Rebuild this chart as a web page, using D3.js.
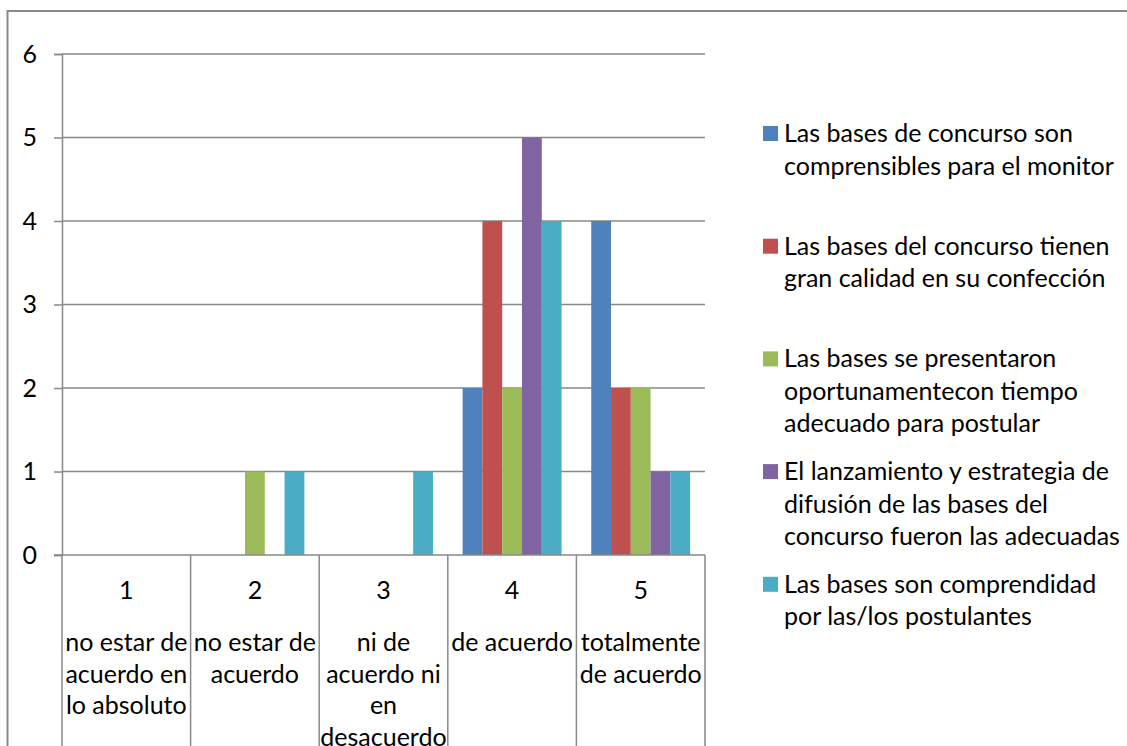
<!DOCTYPE html>
<html>
<head>
<meta charset="utf-8">
<script src="https://cdn.jsdelivr.net/npm/d3@7"></script>
<style>
  html, body { margin: 0; padding: 0; background: #fff; }
  svg { display: block; }
  text { font-family: Lato, "Open Sans", sans-serif; fill: #000; }
</style>
</head>
<body>
<svg id="chart" width="1127" height="746"></svg>
<script>
// ---- data ----
const categories = ["1", "2", "3", "4", "5"];
const categoryLabels = [
  ["no estar de", "acuerdo en", "lo absoluto"],
  ["no estar de", "acuerdo"],
  ["ni de", "acuerdo ni", "en", "desacuerdo"],
  ["de acuerdo"],
  ["totalmente", "de acuerdo"]
];
const seriesNames = [
  ["Las bases de concurso son", "comprensibles para el monitor"],
  ["Las bases del concurso tienen", "gran calidad en su confección"],
  ["Las bases se presentaron", "oportunamentecon tiempo", "adecuado para postular"],
  ["El lanzamiento y estrategia de", "difusión de las bases del", "concurso fueron las adecuadas"],
  ["Las bases son comprendidad", "por las/los postulantes"]
];
const seriesColors = ["#4F81BD", "#C0504D", "#9BBB59", "#8064A2", "#4BACC6"];
const s1 = [0, 0, 0, 2, 4];
const s2 = [0, 0, 0, 4, 2];
const s3 = [0, 1, 0, 2, 2];
const s4 = [0, 0, 0, 5, 1];
const s5 = [0, 1, 1, 4, 1];
const seriesValues = [s1, s2, s3, s4, s5];
const yTicks = [0, 1, 2, 3, 4, 5, 6];

// ---- layout ----
const svg = d3.select("#chart");
const plot = { left: 62, right: 705, top: 54, bottom: 555 };
const gray = "#898989";
const fontSize = 25;

// chart frame (extends past the image edges)
svg.append("rect")
  .attr("x", 7.5).attr("y", 11)
  .attr("width", 1300).attr("height", 900)
  .attr("fill", "none").attr("stroke", gray).attr("stroke-width", 2);

const x = d3.scaleBand().domain(categories).range([plot.left, plot.right]).padding(0);
const bw = x.bandwidth();
const barW = bw / (seriesValues.length + 1.5);
const xs = d3.scaleBand().domain(d3.range(seriesValues.length))
  .range([barW * 0.75, bw - barW * 0.75]).padding(0);
const y = d3.scaleLinear().domain([0, 6]).range([plot.bottom, plot.top]);

// gridlines
svg.append("g").selectAll("line").data(yTicks.filter(d => d > 0)).join("line")
  .attr("x1", plot.left).attr("x2", plot.right)
  .attr("y1", d => y(d)).attr("y2", d => y(d))
  .attr("stroke", gray).attr("stroke-width", 1.5);

// y axis
const yAxis = d3.axisLeft(y).tickValues(yTicks).tickSize(8).tickPadding(17).tickFormat(d3.format("d"));
const gy = svg.append("g").attr("transform", `translate(${plot.left},0)`).call(yAxis);
gy.select(".domain").attr("stroke", gray).attr("stroke-width", 1.5);
gy.selectAll(".tick line").attr("stroke", gray).attr("stroke-width", 1.5);
gy.selectAll(".tick text").attr("font-size", fontSize).attr("font-family", "Lato, sans-serif").attr("fill", "#000");

// bars
const groups = svg.append("g").selectAll("g").data(categories).join("g")
  .attr("transform", d => `translate(${x(d)},0)`);
groups.selectAll("rect")
  .data((c, ci) => seriesValues.map((vals, si) => ({ si, v: vals[ci] })))
  .join("rect")
  .attr("x", d => xs(d.si))
  .attr("width", xs.bandwidth())
  .attr("y", d => y(d.v))
  .attr("height", d => y(0) - y(d.v))
  .attr("fill", d => seriesColors[d.si]);

// x axis (multi-level)
const xAxis = d3.axisBottom(x).tickSize(0).tickFormat(() => "");
const gx = svg.append("g").attr("transform", `translate(0,${plot.bottom})`).call(xAxis);
gx.select(".domain").remove();
svg.append("line")
  .attr("x1", plot.left - 8).attr("x2", plot.right)
  .attr("y1", plot.bottom).attr("y2", plot.bottom)
  .attr("stroke", gray).attr("stroke-width", 1.5);
const dividers = categories.map(c => x(c)).concat([x(categories[categories.length - 1]) + bw]);
svg.append("g").selectAll("line").data(dividers).join("line")
  .attr("x1", d => d).attr("x2", d => d)
  .attr("y1", plot.bottom).attr("y2", 760)
  .attr("stroke", gray).attr("stroke-width", 1.5);

svg.append("g").selectAll("text").data(categories).join("text")
  .attr("x", d => x(d) + bw / 2).attr("y", 599)
  .attr("text-anchor", "middle").attr("font-size", fontSize)
  .text(d => d);

categoryLabels.forEach((lines, ci) => {
  const t = svg.append("text")
    .attr("x", x(categories[ci]) + bw / 2).attr("y", 651)
    .attr("text-anchor", "middle").attr("font-size", fontSize);
  lines.forEach((ln, li) => {
    t.append("tspan").attr("x", x(categories[ci]) + bw / 2)
      .attr("y", 651 + li * 31.7).text(ln);
  });
});

// legend
const legendTop = 142, legendPitch = 112.7;
seriesNames.forEach((lines, si) => {
  const by = legendTop + si * legendPitch;
  svg.append("rect")
    .attr("x", 763).attr("y", by - 16)
    .attr("width", 15).attr("height", 15)
    .attr("fill", seriesColors[si]);
  const t = svg.append("text").attr("font-size", fontSize);
  lines.forEach((ln, li) => {
    t.append("tspan").attr("x", 784).attr("y", by + li * 32.5).text(ln);
  });
});
</script>
</body>
</html>
